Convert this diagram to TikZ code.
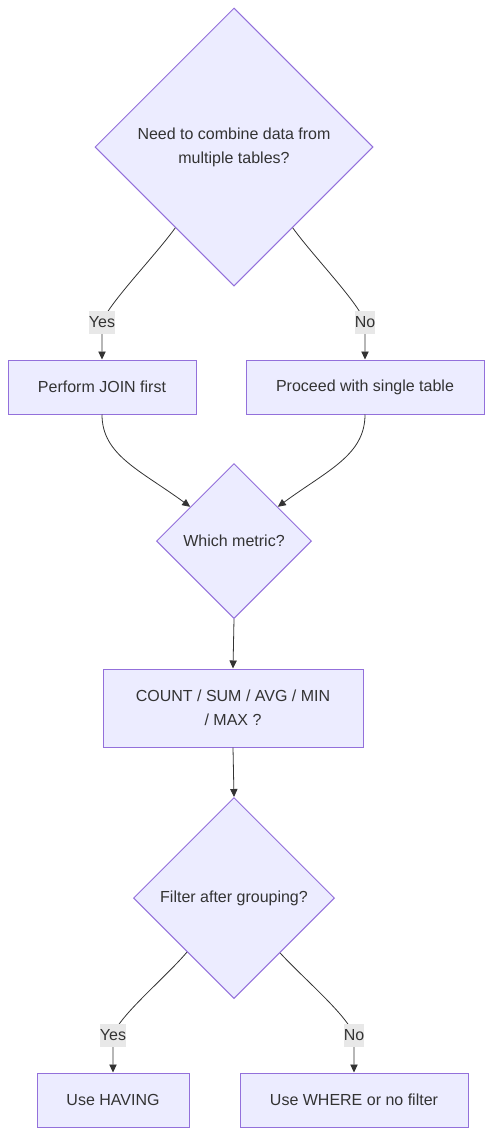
\documentclass[tikz,border=0pt]{standalone}
\usepackage{fontspec}
\setmainfont{Liberation Sans}
\usetikzlibrary{shapes.geometric, arrows.meta}
\definecolor{nodefill}{HTML}{ECECFF}
\definecolor{nodeline}{HTML}{9370DB}
\definecolor{textgray}{HTML}{333333}
\definecolor{labelbg}{HTML}{E8E8E8}

\begin{document}
\begin{tikzpicture}[x=0.75pt, y=-0.75pt,
        every node/.style={font=\fontsize{12}{18}\selectfont, text=textgray},
        box/.style={rectangle, draw=nodeline, fill=nodefill, line width=0.75pt, minimum height=40.5pt, align=center, inner sep=0pt},
        decision/.style={diamond, aspect=1, draw=nodeline, fill=nodefill, line width=0.75pt, align=center, inner sep=0pt},
        edge/.style={draw=textgray, line width=0.6pt, -{Triangle[length=6pt, width=5.5pt]}},
        answer/.style={fill=labelbg, inner xsep=0pt, inner ysep=0pt, minimum height=17.25pt}]
        \useasboundingbox (0,0) rectangle (492,1135);
        \node[decision, minimum size=208.5pt] (combine) at (234,147) {Need to combine data from\\multiple tables?};
        \node[box, minimum width=141pt] (join) at (102,387) {Perform JOIN first};
        \node[box, minimum width=178.5pt] (single) at (365,387) {Proceed with single table};
        \node[decision, minimum size=116.25pt] (metric) at (234,541) {Which metric?};
        \node[box, minimum width=195pt, minimum height=58.5pt] (aggregate) at (233,708) {COUNT / SUM / AVG / MIN\\/ MAX ?};
        \node[decision, minimum size=150.75pt] (filter) at (234,898) {Filter after grouping?};
        \node[box, minimum width=114pt] (having) at (113,1100) {Use HAVING};
        \node[box, minimum width=171pt] (where) at (354,1100) {Use WHERE or no filter};
        \draw[edge] (combine.234) .. controls (155,256) and (110,302) .. (102,322) node[answer]{Yes} -- (join.north);
        \draw[edge] (combine.306) .. controls (313,256) and (358,302) .. (365,322) node[answer]{No} -- (single.north);
        \draw[edge] (join.south) .. controls (102,455) and (140,470) .. (metric.142);
        \draw[edge] (single.south) .. controls (365,455) and (328,470) .. (metric.38);
        \draw[edge] (metric.south) -- (aggregate.north);
        \draw[edge] (aggregate.south) -- (filter.north);
        \draw[edge] (filter.229.5) .. controls (165,978) and (120,1015) .. (113,1035) node[answer]{Yes} -- (having.north);
        \draw[edge] (filter.310.5) .. controls (303,978) and (347,1015) .. (354,1035) node[answer]{No} -- (where.north);
\end{tikzpicture}
\end{document}
